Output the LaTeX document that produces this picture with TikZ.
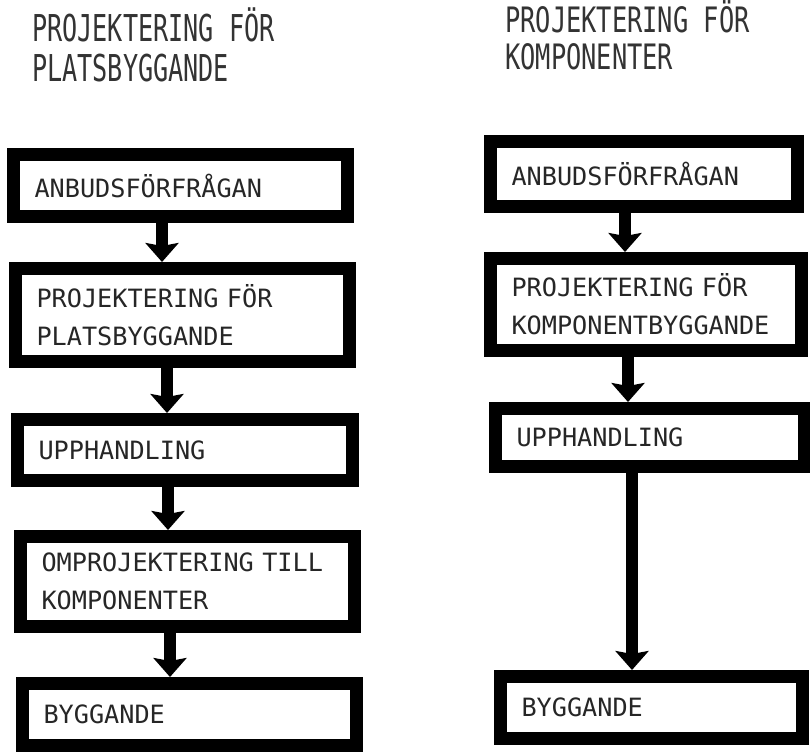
\documentclass[tikz,border=0pt]{standalone}
\usepackage{fontspec}
\newfontfamily\boxfont[WordSpace={1,0,0}]{DejaVu Sans Mono}
\newfontfamily\titlefont[FakeStretch=0.68,WordSpace={1,0,0}]{DejaVu Sans Mono}
\newfontfamily\titlefontb[FakeStretch=0.725,WordSpace={1,0,0}]{DejaVu Sans Mono}
\usetikzlibrary{arrows.meta}
\begin{document}
\begin{tikzpicture}[x=1pt,y=-1pt,
  box/.style={draw=black, line width=13pt, fill=white, inner xsep=21pt, inner ysep=0pt,
    align=left, font=\boxfont\fontsize{25.2}{38}\selectfont, text=black!85, anchor=center,
    minimum height=#1},
  ttl/.style={inner sep=0pt, align=left, anchor=base west, text=black!80},
  arr/.style={line width=12pt, draw=black, -{Stealth[width=33pt,length=19pt,inset=3pt]}}]
\useasboundingbox[fill=white] (0,0) rectangle (810,754);
% titles (anchored at the baseline of the last line)
\node[ttl, font=\titlefont\fontsize{37}{40}\selectfont] (tl) at (32,82) {PROJEKTERING FÖR\\PLATSBYGGANDE};
\node[ttl, font=\titlefontb\fontsize{35}{37}\selectfont] (tr) at (505,70) {PROJEKTERING FÖR\\KOMPONENTER};
% left column
\node[box=62pt, text width=292pt] (l1) at (180.5,185.5) {ANBUDSFÖRFRÅGAN};
\node[box=93pt, text width=292pt] (l2) at (182.5,315) {PROJEKTERING FÖR\\PLATSBYGGANDE};
\node[box=61pt, text width=293pt] (l3) at (185,450) {UPPHANDLING};
\node[box=90pt, text width=292pt] (l4) at (187.5,581.5) {OMPROJEKTERING TILL\\KOMPONENTER};
\node[box=62pt, text width=292pt] (l5) at (189.5,714.5) {BYGGANDE};
% right column
\node[box=65pt, text width=265pt] (r1) at (644,174) {ANBUDSFÖRFRÅGAN};
\node[box=92pt, text width=269pt] (r2) at (646,304.5) {PROJEKTERING FÖR\\KOMPONENTBYGGANDE};
\node[box=58pt, text width=267pt] (r3) at (650,437.5) {UPPHANDLING};
\node[box=62pt, text width=260pt] (r4) at (651.5,707.5) {BYGGANDE};
% arrows left
\draw[arr] ([xshift=-18.5pt]l1.south) -- ([xshift=-20.5pt]l2.north);
\draw[arr] ([xshift=-15.5pt]l2.south) -- ([xshift=-18pt]l3.north);
\draw[arr] ([xshift=-17pt]l3.south) -- ([xshift=-19.5pt]l4.north);
\draw[arr] ([xshift=-17.5pt]l4.south) -- ([xshift=-19.5pt]l5.north);
% arrows right
\draw[arr] ([xshift=-19pt]r1.south) -- ([xshift=-21pt]r2.north);
\draw[arr] ([xshift=-18pt]r2.south) -- ([xshift=-22pt]r3.north);
\draw[arr] ([xshift=-18pt]r3.south) -- ([xshift=-19.5pt]r4.north);
\end{tikzpicture}
\end{document}
